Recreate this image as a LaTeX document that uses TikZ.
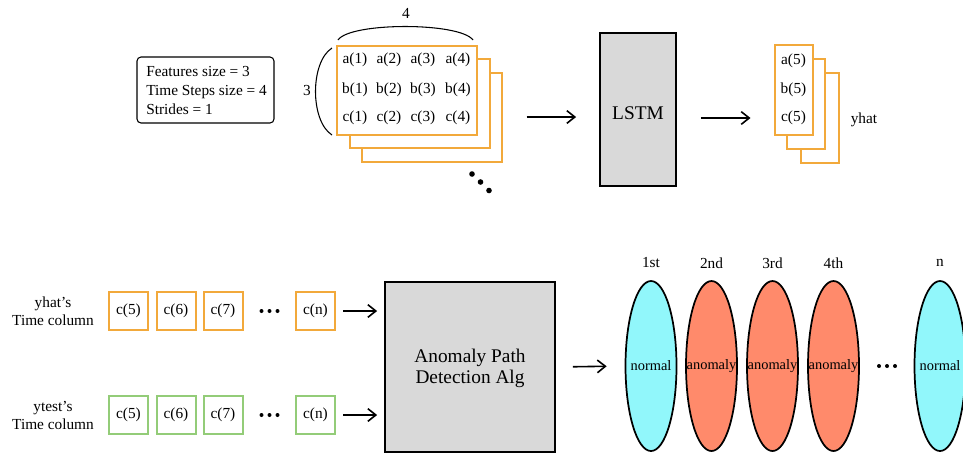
\documentclass[tikz,border=0pt]{standalone}
\usepackage{fontspec}
\setmainfont{Liberation Serif}
\usetikzlibrary{shapes.geometric,arrows.meta}
\definecolor{orng}{HTML}{F2A93B}
\definecolor{grn}{HTML}{93CC78}
\definecolor{cyanf}{HTML}{91F7FB}
\definecolor{salmonf}{HTML}{FF8A6B}
\definecolor{grayf}{HTML}{D9D9D9}
\begin{document}
\begin{tikzpicture}[x=0.75pt,y=-0.75pt,
  txt/.style={font=\fontsize{11.5}{13.5}\selectfont, inner sep=0pt},
  bigtxt/.style={font=\fontsize{14.5}{15.75}\selectfont, inner sep=0pt, align=center},
  obox/.style={draw=orng, line width=1.5pt, fill=white, inner sep=0pt},
  gbox/.style={draw=grn, line width=1.5pt, fill=white, inner sep=0pt},
  mat/.style={obox, minimum width=105pt, minimum height=66.75pt},
  ymat/.style={obox, minimum width=28.5pt, minimum height=67.5pt},
  cellbox/.style={minimum width=29.25pt, minimum height=28.5pt, font=\fontsize{11.5}{13.5}\selectfont},
  graybox/.style={draw=black, line width=1.3pt, fill=grayf, inner sep=0pt},
  oval/.style={ellipse, draw=black, line width=1.3pt, minimum width=38.25pt, minimum height=127.5pt, inner sep=0pt},
  arr/.style={line width=1.2pt, -{Straight Barb[length=6pt,width=9.5pt,line width=1.2pt]}},
  dotn/.style={circle, fill=black, inner sep=0pt, minimum size=3pt},
  bigdot/.style={circle, fill=black, inner sep=0pt, minimum size=4.2pt}]
\useasboundingbox (0,0) rectangle (963,455);

% parameter box
\node[draw=black, line width=0.8pt, rounded corners=3pt, minimum width=102.75pt, minimum height=49.5pt] (param) at (205.5,90) {};
\node[txt, font=\fontsize{11.5}{14.25}\selectfont, align=left, anchor=west] (paramtxt) at (146,90) {Features size = 3\\Time Steps size = 4\\Strides = 1};

% stacked matrices
\node[mat] (m3) at (431.5,117) {};
\node[mat] (m2) at (419.5,103.5) {};
\node[mat] (m1) at (407,90.5) {};
\foreach \r/\yy in {a/60,b/90,c/118}{
  \foreach \c/\xx in {1/355,2/389,3/423,4/458}{
    \node[txt] (\r\c) at (\xx,\yy) {\r(\c)};
  }
}
\draw[line width=0.8pt] (338,40) .. controls (350,22) and (460,22) .. (473,40);
\node[txt] (four) at (406,13) {4};
\draw[line width=0.8pt] (332,48) .. controls (310,62) and (310,121) .. (332,135);
\node[txt] (three) at (307,90) {3};
\node[bigdot] (d1) at (472,174) {};
\node[bigdot] (d2) at (480.5,182) {};
\node[bigdot] (d3) at (489,190.5) {};

% LSTM
\node[graybox, minimum width=57pt, minimum height=114.75pt] (lstm) at (638,109.5) {};
\node[bigtxt] (lstmtxt) at (638,113) {LSTM};

% yhat stack
\node[ymat] (y3) at (819.5,118) {};
\node[ymat] (y2) at (805.5,103.5) {};
\node[ymat] (y1) at (793.5,90) {};
\node[txt] (a5) at (793.5,61) {a(5)};
\node[txt] (b5) at (793.5,90) {b(5)};
\node[txt] (c5) at (793.5,118) {c(5)};
\node[txt] (yhat) at (864,120) {yhat};

\draw[arr, shorten <=18pt, shorten >=17.25pt] (m3.east) -- (m3.east -| lstm.west);
\draw[arr, shorten <=18pt, shorten >=17.25pt] (lstm.east |- y3.west) -- (y1.west |- y3.west);

% bottom rows
\node[txt, align=center, font=\fontsize{11.5}{13.5}\selectfont] (lab1) at (53,311) {yhat’s\\Time column};
\node[txt, align=center, font=\fontsize{11.5}{13.5}\selectfont] (lab2) at (53,415) {ytest’s\\Time column};
\foreach \n/\lab/\xx in {5/c(5)/128.5,6/c(6)/176,7/c(7)/223,n/c(n)/315.5}{
  \node[obox, cellbox] (o\n) at (\xx,311) {\lab};
  \node[gbox, cellbox] (g\n) at (\xx,415) {\lab};
}
\foreach \yy/\k in {311/o,415/g}{
  \node[dotn] (\k d1) at (261.5,\yy) {};
  \node[dotn] (\k d2) at (269.5,\yy) {};
  \node[dotn] (\k d3) at (277.5,\yy) {};
}

% algorithm
\node[graybox, minimum width=127.5pt, minimum height=127.5pt] (alg) at (470,367) {};
\node[bigtxt] (algtxt) at (470,368) {Anomaly Path\\Detection Alg};

\draw[arr, shorten <=5.25pt, shorten >=5.25pt] (on.east) -- (on.east -| alg.west);
\draw[arr, shorten <=5.25pt, shorten >=5.25pt] (gn.east) -- (gn.east -| alg.west);

% ellipses
\node[oval, fill=cyanf] (e1) at (651,366) {};
\node[oval, fill=salmonf] (e2) at (711.5,366) {};
\node[oval, fill=salmonf] (e3) at (772.5,366) {};
\node[oval, fill=salmonf] (e4) at (833.5,366) {};
\node[oval, fill=cyanf] (e5) at (940,366) {};
\node[txt, font=\fontsize{10.8}{12}\selectfont] (t1) at (e1) {normal};
\node[txt, font=\fontsize{10.8}{12}\selectfont] (t2) at (e2) {anomaly};
\node[txt, font=\fontsize{10.8}{12}\selectfont] (t3) at (e3) {anomaly};
\node[txt, font=\fontsize{10.8}{12}\selectfont] (t4) at (e4) {anomaly};
\node[txt, font=\fontsize{10.8}{12}\selectfont] (t5) at (e5) {normal};
\node[txt] (l1) at (651,263) {1st};
\node[txt] (l2) at (711.5,263) {2nd};
\node[txt] (l3) at (772.5,263) {3rd};
\node[txt] (l4) at (833.5,263) {4th};
\node[txt] (l5) at (940,263) {n};
\node[dotn] (ed1) at (879,366) {};
\node[dotn] (ed2) at (887,366) {};
\node[dotn] (ed3) at (895,366) {};

\draw[arr, shorten <=12.75pt, shorten >=13.5pt] (alg.east) -- (e1.west);
\end{tikzpicture}
\end{document}
